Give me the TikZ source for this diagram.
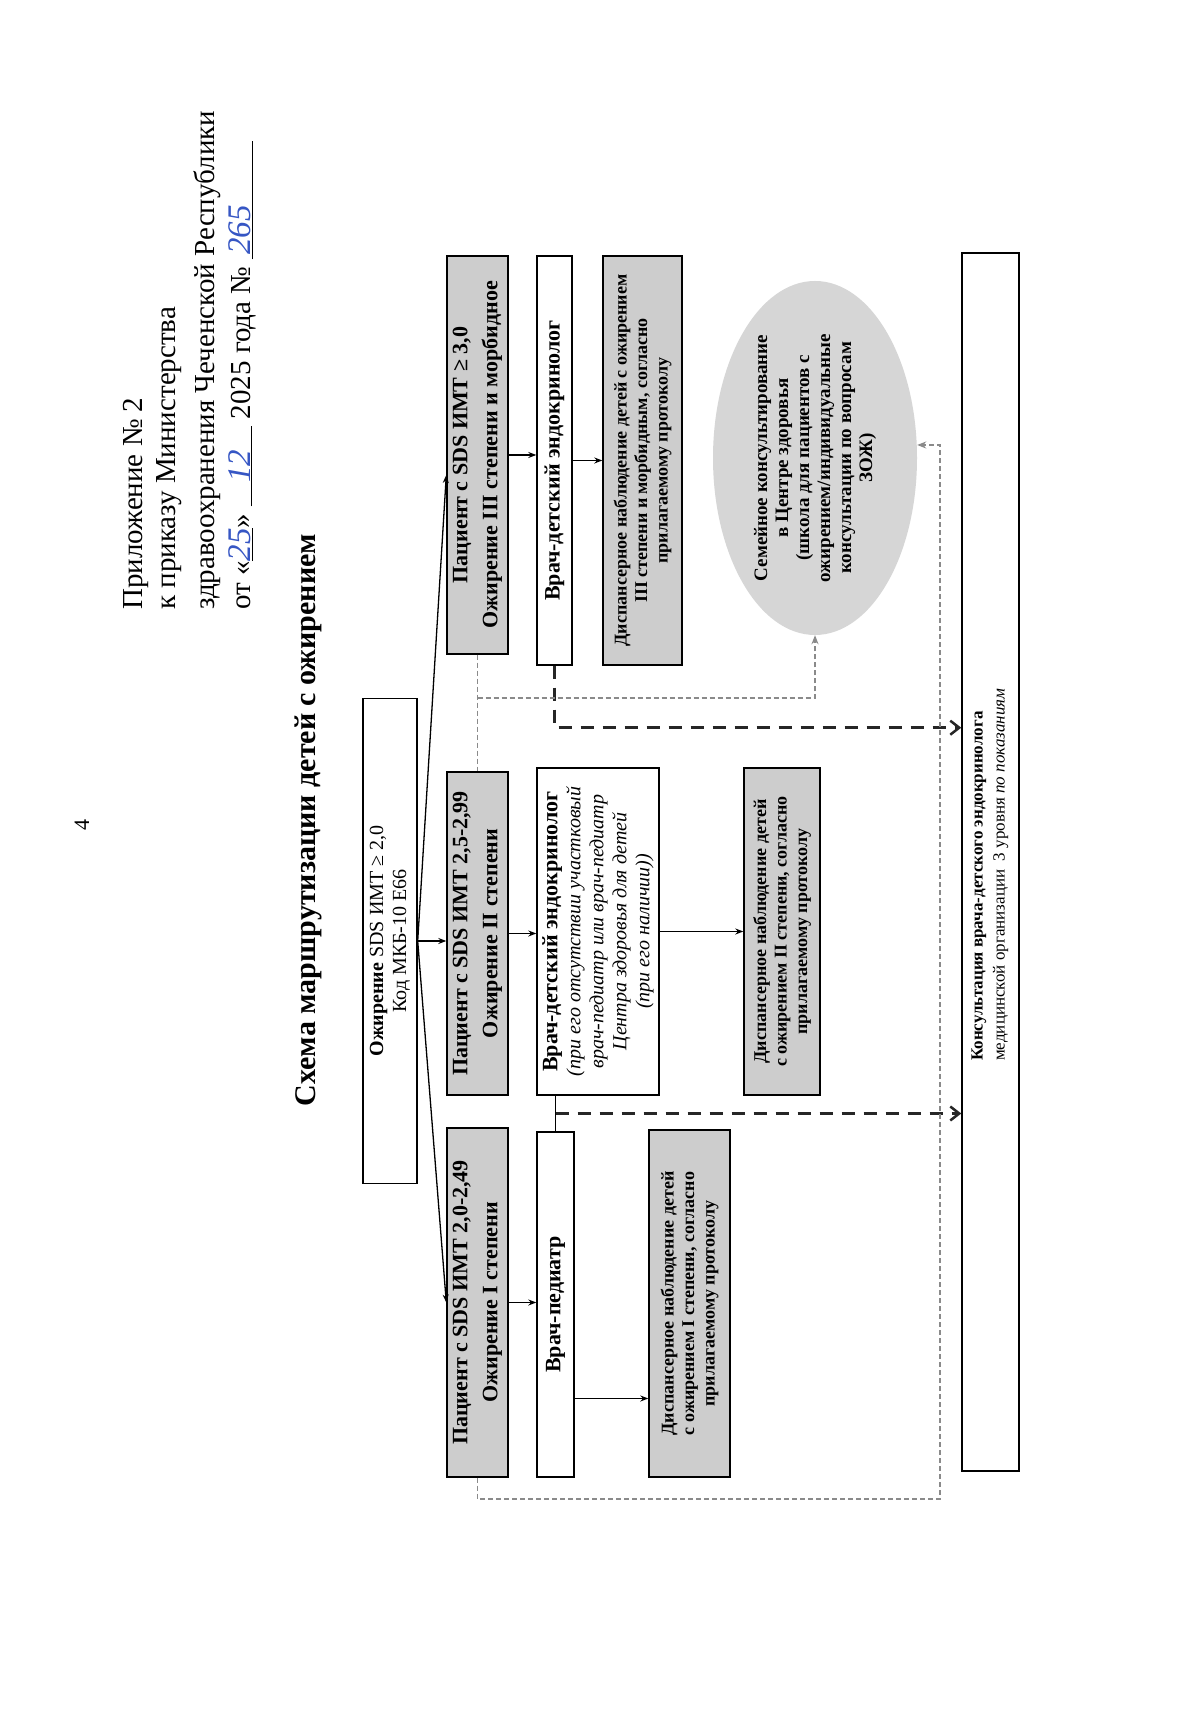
\documentclass[tikz,border=0pt]{standalone}
\usepackage{fontspec}
\setmainfont{Liberation Serif}
\usepackage{xcolor}
\usepackage{tikz}
\usetikzlibrary{calc,arrows.meta,positioning,shapes.geometric}
\definecolor{paper}{HTML}{FFFFFF}
\definecolor{ink}{HTML}{3656C4}
\definecolor{shade}{HTML}{CDCDCD}
\definecolor{ovalgray}{HTML}{D6D6D6}
\definecolor{auxgray}{HTML}{8A8A8A}
\newcommand\hw[1]{{\color{ink}\itshape\fontsize{33}{35}\selectfont #1}}
\tikzset{
  frame/.style={draw=black, line width=1.4pt},
  plain/.style={frame, fill=white, align=center, inner sep=2pt},
  grey/.style={frame, fill=shade, align=center, inner sep=2pt, font=\fontsize{22}{30}\selectfont\bfseries},
  obs/.style={grey, font=\fontsize{18}{20.5}\selectfont\bfseries},
  doc/.style={font=\fontsize{22}{26}\selectfont\bfseries},
  family/.style={ellipse, fill=ovalgray, inner sep=0pt, align=center, font=\fontsize{19}{21}\selectfont\bfseries},
  hdr/.style={anchor=west, inner sep=0pt, font=\fontsize{29}{35}\selectfont},
  arr/.style={draw=black, line width=1.3pt, -{Stealth[length=8pt,width=6pt]}},
  route/.style={draw=black!85, line width=3pt, dash pattern=on 13pt off 9pt, -{Straight Barb[length=9pt,width=14pt,line width=2.5pt]}},
  aux/.style={draw=auxgray, line width=1.6pt, dash pattern=on 5pt off 3pt},
  auxtip/.style={-{Stealth[length=9pt,width=7pt]}},
}
\begin{document}
\begin{tikzpicture}[x=1pt, y=-1pt]
\begin{scope}[rotate=90, transform shape]
\useasboundingbox[fill=paper] (0,0) rectangle (1709,1200);

% page head
\node[font=\fontsize{22}{26}\selectfont] (pagenum) at (884,82) {4};
\node[hdr] (hdr1) at (1099,136) {Приложение № 2};
\node[hdr] (hdr2) at (1099,169) {к приказу Министерства};
\node[hdr] (hdr3) at (1099,207) {здравоохранения Чеченской Республики};
\node[hdr] (hdr4) at (1099,242) {от «\underline{\hw{25}}» \underline{\makebox[80pt]{\hw{12}}} 2025 года № \underline{\makebox[118pt][l]{\,\hw{265}}}};
\node[font=\fontsize{30}{36}\selectfont\bfseries] (title) at (889,308) {Схема маршрутизации детей с ожирением};

% boxes
\node[plain, minimum width=485pt, minimum height=54pt, font=\fontsize{20}{23}\selectfont] (top) at (768,390) {\textbf{Ожирение} SDS ИМТ ≥ 2,0\\Код МКБ-10 E66};

\node[grey, minimum width=349pt, minimum height=61pt] (p1) at (406.5,477.5) {Пациент с SDS ИМТ 2,0-2,49\\Ожирение I степени};
\node[grey, minimum width=323pt, minimum height=61pt] (p2) at (775.5,477.5) {Пациент с SDS ИМТ 2,5-2,99\\Ожирение II степени};
\node[grey, minimum width=398pt, minimum height=61pt] (p3) at (1254,477.5) {Пациент с SDS ИМТ ≥ 3,0\\Ожирение III степени и морбидное};

\node[plain, doc, minimum width=345pt, minimum height=37pt] (d1) at (404.5,555.5) {Врач-педиатр};
\node[plain, minimum width=327pt, minimum height=122pt, font=\fontsize{20}{23}\selectfont\itshape] (d2) at (777.5,598) {{\fontsize{22}{26}\selectfont\bfseries\upshape Врач-детский эндокринолог}\\(при его отсутствии участковый\\врач-педиатр или врач-педиатр\\Центра здоровья для детей\\(при его наличии))};
\node[plain, doc, minimum width=409pt, minimum height=35pt] (d3) at (1248.5,554.5) {Врач-детский эндокринолог};

\node[obs, minimum width=347pt, minimum height=81pt] (o1) at (405.5,689.5) {Диспансерное наблюдение детей\\с ожирением I степени, согласно\\прилагаемому протоколу};
\node[obs, minimum width=327pt, minimum height=76pt] (o2) at (777.5,782) {Диспансерное наблюдение детей\\с ожирением II степени, согласно\\прилагаемому протоколу};
\node[obs, minimum width=409pt, minimum height=79pt] (o3) at (1248.5,642.5) {Диспансерное наблюдение детей с ожирением\\III степени и морбидным, согласно\\прилагаемому протоколу};

\node[family, minimum width=354pt, minimum height=204pt] (fam) at (1251,815) {Семейное консультирование\\в Центре здоровья\\(школа для пациентов с\\ожирением/индивидуальные\\консультации по вопросам\\ЗОЖ)};

\node[frame, minimum width=1218pt, minimum height=57pt] (cons) at (847,990.5) {};
\node[anchor=west, align=left, inner sep=0pt, font=\fontsize{17}{22}\selectfont] (constext) at (648,990) {\textbf{Консультация врача-детского эндокринолога}\\медицинской организации\ \ 3 уровня \textit{по показаниям}};

% solid arrows
\draw[arr] (top.south) -- (p1.north);
\draw[arr] (top.south) -- (top.south |- p2.north);
\draw[arr] (top.south) -- ([xshift=-20pt]p3.north);
\draw[arr] (p1.south) -- (p1.south |- d1.north);
\draw[arr] (p2.south) -- (p2.south |- d2.north);
\draw[arr] (p3.south) -- (p3.south |- d3.north);
\coordinate (c1) at ([xshift=-94pt]d1.south);
\draw[arr] (c1) -- (c1 |- o1.north);
\draw[arr] (d2.south) -- (d2.south |- o2.north);
\draw[arr] (d3.south) -- (d3.south |- o3.north);

% to the consultation
\draw[frame] (d1.east) -- (d1.east -| d2.west);
\coordinate (j1) at ($(d1.east)!0.5!(d1.east -| d2.west)$);
\draw[route] (j1) -- (j1 |- cons.north);
\coordinate (k3) at ([xshift=-62pt]d3.west);
\draw[route] (d3.west) -- (k3) -- (k3 |- cons.north);

% to the health centre
\coordinate (g1) at (1011,477.5);
\coordinate (g2) at (210,477.5);
\coordinate (g3) at (1264,940);
\draw[aux] (p3.west) -- (p2.east);
\draw[aux, auxtip] (g1) |- (fam.west);
\draw[aux, auxtip] (p1.west) -- (g2) |- (g3) -- (g3 |- fam.south);
\end{scope}
\end{tikzpicture}
\end{document}
